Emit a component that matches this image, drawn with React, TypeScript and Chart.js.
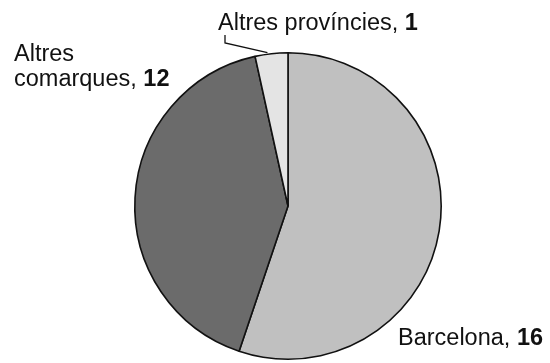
import React, { useEffect, useRef } from "react";
import { Chart, registerables } from "chart.js";

Chart.register(...registerables);

const categories = ["Barcelona", "Altres comarques", "Altres províncies"];
const values = [16, 12, 1];
const colors = ["#c0c0c0", "#6b6b6b", "#e4e4e4"];

const FONT = '"Liberation Sans", Arial, Helvetica, sans-serif';
const SIZE = 23.5;

const labelPlugin = {
  id: "pieLabels",
  afterDraw(chart: any) {
    const ctx = chart.ctx;
    const meta = chart.getDatasetMeta(0);
    const arcs = meta.data;
    const cx = arcs[0].x;
    const cy = arcs[0].y;
    const r = arcs[0].outerRadius;
    ctx.save();
    ctx.fillStyle = "#111";
    ctx.textBaseline = "alphabetic";
    const drawLabel = (name: string, val: number, x: number, y: number) => {
      ctx.font = `${SIZE}px ${FONT}`;
      const t = name + ", ";
      ctx.fillText(t, x, y);
      const w = ctx.measureText(t).width;
      ctx.font = `bold ${SIZE}px ${FONT}`;
      ctx.fillText(String(val), x + w, y);
    };
    drawLabel(categories[2], values[2], 218, 30);
    ctx.font = `${SIZE}px ${FONT}`;
    ctx.fillText("Altres", 14, 61);
    drawLabel("comarques", values[1], 14, 86);
    drawLabel(categories[0], values[0], 398, 345);
    const a2 = arcs[2];
    const mid = (a2.startAngle + a2.endAngle) / 2;
    const ex = cx + Math.cos(mid) * r;
    const ey = cy + Math.sin(mid) * r;
    ctx.strokeStyle = "#111";
    ctx.lineWidth = 1.3;
    ctx.beginPath();
    ctx.moveTo(225, 35);
    ctx.lineTo(225, 43);
    ctx.lineTo(ex - 4, ey - 1);
    ctx.stroke();
    ctx.restore();
  },
};

export default function App() {
  const ref = useRef<HTMLCanvasElement | null>(null);
  useEffect(() => {
    document.body.style.margin = "0";
    const chart = new Chart(ref.current!, {
      type: "pie",
      data: {
        labels: categories,
        datasets: [
          {
            data: values,
            backgroundColor: colors,
            borderColor: "#111",
            borderWidth: 1.6,
          },
        ],
      },
      options: {
        responsive: false,
        animation: false,
        layout: { padding: { left: 134, right: 108, top: 52, bottom: 3 } },
        plugins: {
          legend: { display: false },
          tooltip: { enabled: false },
        },
      },
      plugins: [labelPlugin],
    });
    return () => chart.destroy();
  }, []);
  return (
    <div style={{ position: "fixed", left: 0, top: 0, width: 550, height: 363, background: "#fff" }}>
      <canvas ref={ref} width={550} height={363} />
    </div>
  );
}
